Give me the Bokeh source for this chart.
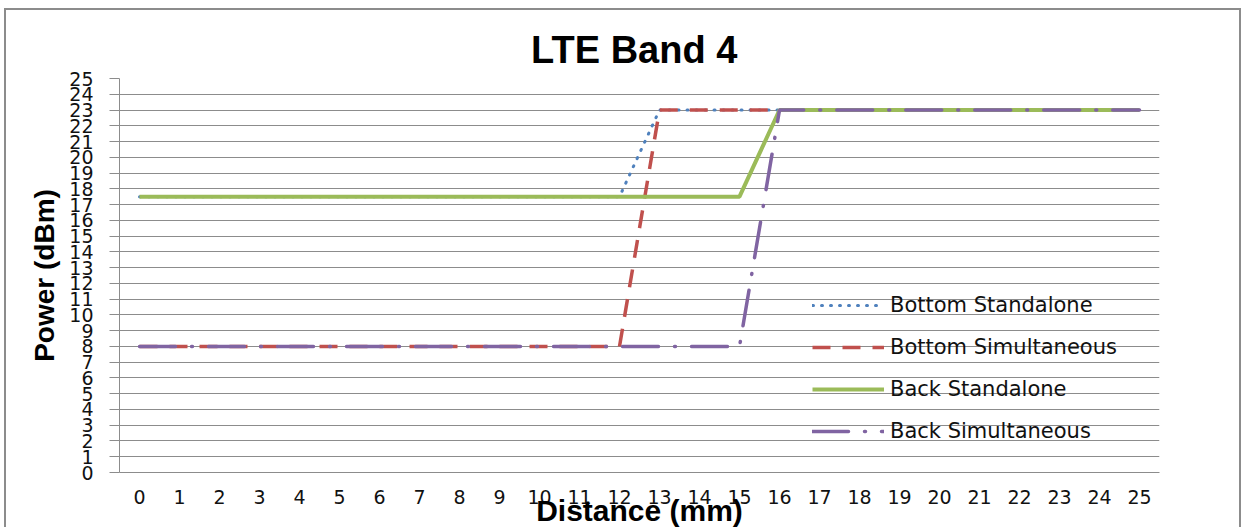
from bokeh.plotting import figure
from bokeh.models import Range1d, FixedTicker, Legend, LegendItem, FactorRange
from bokeh.embed import file_html
from bokeh.resources import INLINE

# ---- data ----
distance = [str(d) for d in range(26)]
bottom_standalone = [17.5] * 13 + [23] * 13
bottom_simultaneous = [8] * 13 + [23] * 13
back_standalone = [17.5] * 16 + [23] * 10
back_simultaneous = [8] * 16 + [23] * 10
y_ticks = list(range(26))

series_names = ["Bottom Standalone", "Bottom Simultaneous", "Back Standalone", "Back Simultaneous"]

p = figure(width=1237, height=519, x_range=FactorRange(*distance), y_range=Range1d(0, 25),
           output_backend="svg", toolbar_location=None,
           min_border_left=113, min_border_right=84, min_border_top=68, min_border_bottom=57)
p.margin = (8, 0, 0, 4)
p.styles = {"border-left": "2px solid #8c8c8c", "border-top": "2px solid #8c8c8c",
            "border-right": "2px solid #8c8c8c"}

p.title.text = "LTE  Band 4"
p.title.align = "center"
p.title.text_font = "Liberation Sans"
p.title.text_font_size = "38px"
p.title.text_font_style = "bold"
p.title.text_color = "#000000"
p.title.standoff = 16

grid_c = "#8c8c8c"
p.xgrid.visible = False
p.ygrid.grid_line_color = grid_c
p.ygrid.grid_line_width = 1
p.outline_line_color = None

p.yaxis.ticker = FixedTicker(ticks=y_ticks)
p.yaxis.axis_line_color = grid_c
p.yaxis.major_tick_line_color = grid_c
p.yaxis.major_tick_out = 10
p.yaxis.major_tick_in = 0
p.yaxis.minor_tick_line_color = None
p.yaxis.major_label_standoff = 16
p.yaxis.major_label_text_font = "DejaVu Sans"
p.yaxis.major_label_text_font_size = "19px"
p.yaxis.major_label_text_color = "#111111"
p.yaxis.axis_label = "Power (dBm)"
p.yaxis.axis_label_text_font = "Liberation Sans"
p.yaxis.axis_label_text_font_size = "28px"
p.yaxis.axis_label_text_font_style = "bold"
p.yaxis.axis_label_text_color = "#000000"
p.yaxis.axis_label_standoff = 6

p.xaxis.axis_line_color = grid_c
p.xaxis.major_tick_line_color = None
p.xaxis.major_tick_out = 0
p.xaxis.major_tick_in = 0
p.xaxis.major_label_standoff = 17
p.xaxis.major_label_text_font = "DejaVu Sans"
p.xaxis.major_label_text_font_size = "19px"
p.xaxis.major_label_text_color = "#111111"
p.xaxis.axis_label = "Distance (mm)"
p.xaxis.axis_label_text_font = "Liberation Sans"
p.xaxis.axis_label_text_font_size = "30px"
p.xaxis.axis_label_text_font_style = "bold"
p.xaxis.axis_label_text_color = "#000000"
p.xaxis.axis_label_standoff = -13

r1 = p.line(distance, bottom_standalone, line_color="#4F81BD", line_width=3,
            line_dash="1 8", line_cap="round")
r2 = p.line(distance, bottom_simultaneous, line_color="#C0504D", line_width=3.5,
            line_dash="18 12")
r3 = p.line(distance, back_standalone, line_color="#9BBB59", line_width=4)
r4 = p.line(distance, back_simultaneous, line_color="#8064A2", line_width=3.5,
            line_dash="36 16 1 16", line_cap="round")

legend = Legend(items=[LegendItem(label=n, renderers=[r]) for n, r in zip(series_names, [r1, r2, r3, r4])],
                location=(693, 29), orientation="vertical")
legend.background_fill_alpha = 0
legend.border_line_color = None
legend.padding = 0
legend.margin = 0
legend.spacing = 18
legend.glyph_width = 72
legend.glyph_height = 20
legend.label_height = 20
legend.label_standoff = 6
legend.label_text_font = "DejaVu Sans"
legend.label_text_font_size = "21px"
legend.label_text_color = "#111111"
p.add_layout(legend, "center")

open("out.html", "w").write(file_html(p, INLINE))
